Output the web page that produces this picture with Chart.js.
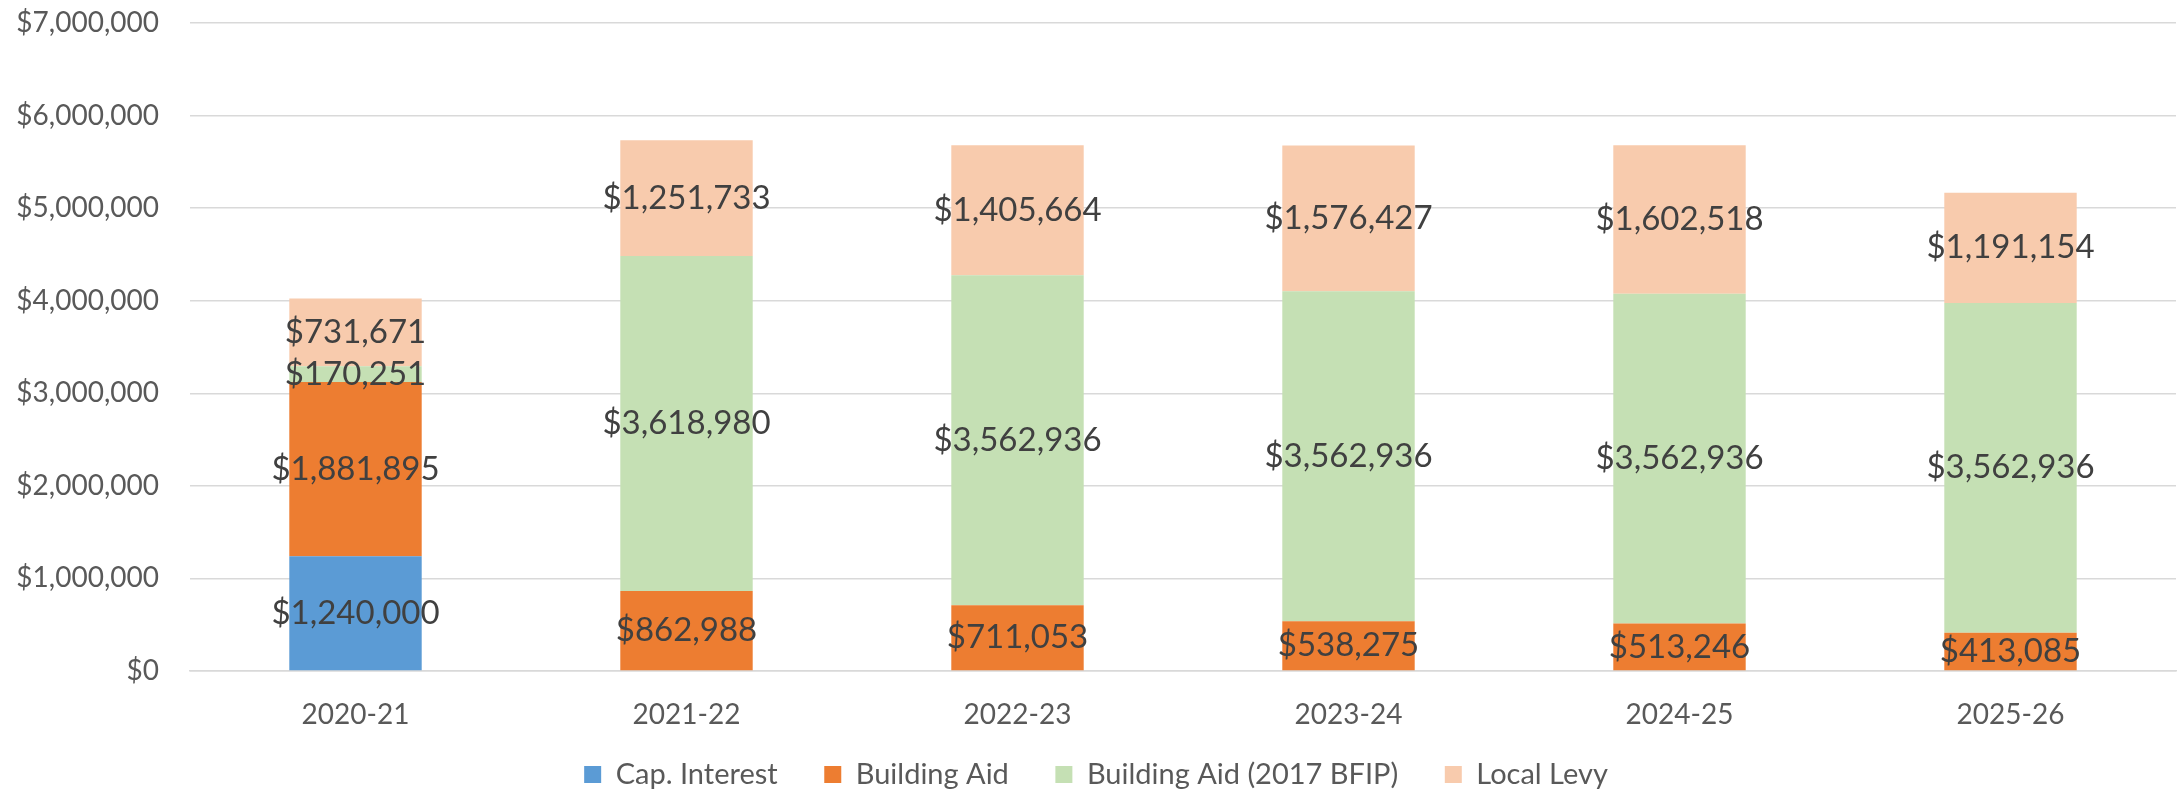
<!DOCTYPE html>
<html>
<head>
<meta charset="utf-8">
<script src="https://cdn.jsdelivr.net/npm/chart.js@4"></script>
<style>
  html, body { margin: 0; padding: 0; background: #fff; }
  canvas { display: block; }
</style>
</head>
<body>
<canvas id="plot" width="2178" height="792"></canvas>
<script>
const years = ['2020-21', '2021-22', '2022-23', '2023-24', '2024-25', '2025-26'];
const capInterest = [1240000, 0, 0, 0, 0, 0];
const buildingAid = [1881895, 862988, 711053, 538275, 513246, 413085];
const bfipAid = [170251, 3618980, 3562936, 3562936, 3562936, 3562936];
const localLevy = [731671, 1251733, 1405664, 1576427, 1602518, 1191154];

const money = v => '$' + v.toLocaleString('en-US');

// draws the value in the middle of each stacked piece
const segmentLabels = {
    id: 'segmentLabels',
    afterDatasetsDraw(chart) {
        const ctx = chart.ctx;
        ctx.save();
        ctx.font = '33px Lato';
        ctx.fillStyle = '#404040';
        ctx.textAlign = 'center';
        ctx.textBaseline = 'middle';
        chart.data.datasets.forEach((ds, i) => {
            const meta = chart.getDatasetMeta(i);
            meta.data.forEach((bar, j) => {
                const v = ds.data[j];
                if (!v) return;
                ctx.fillText(money(v), bar.x, (bar.y + bar.base) / 2);
            });
        });
        ctx.restore();
    }
};

const ctx = document.getElementById('plot').getContext('2d');
const myChart = new Chart(ctx, {
    type: 'bar',
    data: {
        labels: years,
        datasets: [
            { label: 'Cap. Interest', data: capInterest, backgroundColor: '#5B9BD5' },
            { label: 'Building Aid', data: buildingAid, backgroundColor: '#ED7D31' },
            { label: 'Building Aid (2017 BFIP)', data: bfipAid, backgroundColor: '#C5E0B4' },
            { label: 'Local Levy', data: localLevy, backgroundColor: '#F8CBAD' }
        ]
    },
    options: {
        responsive: false,
        animation: false,
        categoryPercentage: 1,
        barPercentage: 0.4,
        layout: { autoPadding: false, padding: { top: 0, right: 2, left: 16, bottom: -7 } },
        scales: {
            x: {
                stacked: true,
                grid: { display: false, drawTicks: false },
                border: { color: '#D9D9D9', width: 1.5 },
                ticks: { color: '#595959', font: { family: 'Lato', size: 28 }, padding: 27 },
                afterFit: scale => { scale.height = 87; }
            },
            y: {
                stacked: true,
                min: 0,
                max: 7000000,
                border: { display: false },
                grid: { color: '#D9D9D9', lineWidth: 1.5, drawTicks: false },
                ticks: {
                    stepSize: 1000000,
                    color: '#595959',
                    font: { family: 'Lato', size: 28 },
                    padding: 31,
                    callback: v => money(v)
                },
                // fixed axis width, and don't let the tick padding push the top down
                afterFit: scale => {
                    scale.width = 174;
                    scale.paddingTop = 23;
                }
            }
        },
        plugins: {
            tooltip: { enabled: false },
            legend: {
                position: 'bottom',
                labels: {
                    boxWidth: 17,
                    boxHeight: 17,
                    padding: 2,
                    color: '#595959',
                    font: { family: 'Lato', size: 29 },
                    // padding is kept small for height, so add the gap as spaces
                    generateLabels(chart) {
                        const items = Chart.defaults.plugins.legend.labels.generateLabels(chart);
                        items.forEach((it, i) => {
                            if (i < items.length - 1) it.text += '      ';
                        });
                        return items;
                    }
                }
            }
        }
    },
    plugins: [segmentLabels]
});
</script>
</body>
</html>
